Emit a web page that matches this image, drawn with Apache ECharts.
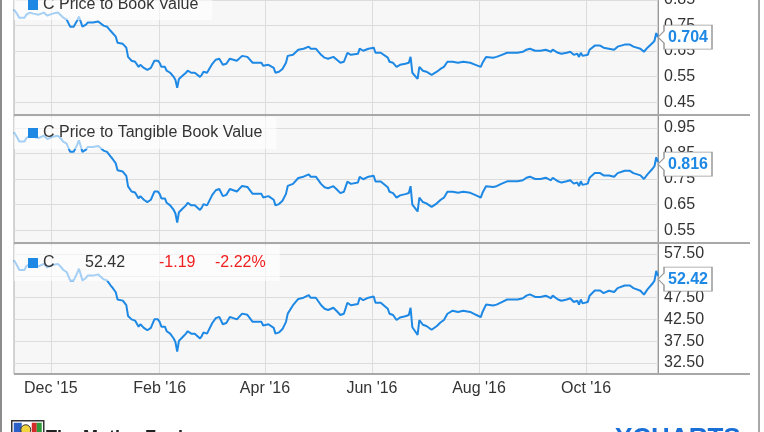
<!DOCTYPE html>
<html><head><meta charset="utf-8">
<script src="https://cdn.jsdelivr.net/npm/echarts@6/dist/echarts.min.js"></script>
<style>html,body{margin:0;padding:0;background:#fff}#c{width:764px;height:432px}</style>
</head><body><div id="c"></div><script>
const dates = ['2015-11-10','2015-11-12','2015-11-13','2015-11-16','2015-11-17','2015-11-19','2015-11-21','2015-11-24','2015-11-27','2015-11-29',
'2015-12-02','2015-12-03','2015-12-05','2015-12-07','2015-12-08','2015-12-10','2015-12-12','2015-12-14','2015-12-16','2015-12-17',
'2015-12-18','2015-12-19','2015-12-21','2015-12-22','2015-12-25','2015-12-28','2015-12-29','2015-12-31','2016-01-02','2016-01-04',
'2016-01-05','2016-01-07','2016-01-08','2016-01-11','2016-01-13','2016-01-14','2016-01-16','2016-01-18','2016-01-20','2016-01-21',
'2016-01-23','2016-01-24','2016-01-25','2016-01-27','2016-01-28','2016-01-29','2016-01-31','2016-02-01','2016-02-02','2016-02-04',
'2016-02-05','2016-02-07','2016-02-09','2016-02-10','2016-02-11','2016-02-12','2016-02-14','2016-02-16','2016-02-17','2016-02-19',
'2016-02-21','2016-02-22','2016-02-24','2016-02-25','2016-02-26','2016-02-28','2016-02-29','2016-03-02','2016-03-04','2016-03-06',
'2016-03-08','2016-03-10','2016-03-12','2016-03-14','2016-03-16','2016-03-19','2016-03-22','2016-03-25','2016-03-28','2016-03-30',
'2016-03-31','2016-04-03','2016-04-06','2016-04-07','2016-04-09','2016-04-11','2016-04-13','2016-04-14','2016-04-17','2016-04-18',
'2016-04-20','2016-04-23','2016-04-26','2016-04-27','2016-04-30','2016-05-03','2016-05-05','2016-05-07','2016-05-10','2016-05-12',
'2016-05-14','2016-05-16','2016-05-18','2016-05-20','2016-05-24','2016-05-25','2016-05-27','2016-05-30','2016-06-02','2016-06-03',
'2016-06-06','2016-06-07','2016-06-10','2016-06-11','2016-06-13','2016-06-15','2016-06-17','2016-06-20','2016-06-22','2016-06-23',
'2016-06-24','2016-06-26','2016-06-27','2016-06-28','2016-06-30','2016-07-02','2016-07-05','2016-07-08','2016-07-10','2016-07-12',
'2016-07-14','2016-07-17','2016-07-20','2016-07-23','2016-07-27','2016-07-30','2016-08-02','2016-08-03','2016-08-05','2016-08-06',
'2016-08-09','2016-08-11','2016-08-14','2016-08-17','2016-08-20','2016-08-23','2016-08-26','2016-08-28','2016-08-30','2016-09-02',
'2016-09-05','2016-09-08','2016-09-09','2016-09-11','2016-09-12','2016-09-15','2016-09-17','2016-09-20','2016-09-22','2016-09-24',
'2016-09-26','2016-09-27','2016-09-28','2016-09-29','2016-10-02','2016-10-03','2016-10-06','2016-10-09','2016-10-11','2016-10-14',
'2016-10-17','2016-10-19','2016-10-23','2016-10-26','2016-10-28','2016-11-01','2016-11-03','2016-11-05','2016-11-08','2016-11-09',
'2016-11-10','2016-11-11'];

const priceToBook = [.812,.792,.780,.780,.792,.800,.796,.792,.800,.788,
.796,.800,.800,.788,.780,.773,.745,.745,.769,.784,
.765,.745,.753,.761,.761,.765,.761,.749,.745,.729,
.722,.706,.682,.678,.663,.627,.612,.608,.588,.596,
.584,.588,.576,.584,.588,.612,.612,.604,.588,.588,
.573,.565,.549,.537,.506,.541,.553,.565,.573,.565,
.565,.569,.549,.557,.569,.565,.569,.600,.616,.620,
.596,.600,.620,.616,.612,.631,.627,.604,.604,.604,
.592,.596,.584,.565,.569,.580,.604,.631,.635,.635,
.655,.659,.667,.659,.659,.635,.624,.620,.627,.616,
.604,.608,.643,.635,.639,.659,.651,.659,.663,.643,
.643,.639,.624,.608,.604,.588,.596,.600,.604,.627,
.565,.549,.541,.588,.573,.569,.557,.569,.580,.588,
.608,.608,.604,.608,.604,.596,.588,.604,.627,.631,
.624,.627,.635,.643,.643,.643,.647,.655,.659,.651,
.651,.655,.659,.647,.655,.643,.639,.643,.647,.635,
.639,.627,.643,.631,.635,.655,.671,.671,.663,.659,
.655,.667,.675,.675,.667,.659,.647,.663,.682,.690,
.720,.704];

const priceToTangibleBook = [.933,.910,.896,.896,.910,.919,.915,.910,.919,.906,
.915,.919,.919,.906,.896,.888,.856,.856,.884,.901,
.879,.856,.865,.875,.875,.879,.875,.861,.856,.838,
.830,.811,.784,.779,.762,.721,.701,.697,.674,.683,
.669,.674,.660,.669,.674,.701,.701,.692,.674,.674,
.657,.647,.629,.615,.580,.620,.634,.647,.657,.647,
.647,.652,.629,.638,.652,.647,.652,.688,.706,.711,
.683,.688,.711,.706,.701,.723,.719,.692,.692,.692,
.678,.683,.669,.647,.652,.665,.692,.723,.731,.731,
.754,.759,.768,.759,.759,.731,.718,.714,.722,.709,
.695,.700,.740,.731,.736,.759,.749,.759,.763,.740,
.740,.736,.718,.700,.695,.677,.686,.691,.695,.722,
.650,.632,.623,.677,.660,.655,.641,.655,.668,.677,
.700,.700,.696,.700,.696,.687,.677,.696,.722,.727,
.719,.722,.732,.741,.741,.741,.745,.755,.759,.750,
.750,.755,.759,.745,.755,.741,.736,.741,.745,.732,
.736,.722,.741,.727,.732,.755,.773,.773,.764,.764,
.759,.773,.782,.782,.773,.764,.750,.768,.791,.800,
.835,.816];

const price = [56.05,54.67,53.84,53.84,54.67,55.22,54.95,54.67,55.22,54.40,
54.95,55.22,55.22,54.40,53.84,53.36,51.43,51.43,53.08,54.12,
52.81,51.43,51.98,52.53,52.53,52.81,52.53,51.70,51.43,50.32,
49.84,48.73,47.08,46.80,45.77,43.28,42.51,42.23,40.84,41.40,
40.56,40.84,40.01,40.56,40.84,42.51,42.51,41.95,40.84,40.84,
39.80,39.24,38.13,37.30,35.15,37.58,38.41,39.24,39.80,39.24,
39.24,39.52,38.13,38.69,39.52,39.24,39.52,41.68,42.79,43.07,
41.40,41.68,43.07,42.79,42.51,43.83,43.55,41.95,41.95,41.95,
41.12,41.40,40.56,39.24,39.52,40.29,41.95,43.83,45.75,45.75,
47.19,47.47,48.05,47.47,47.47,45.75,44.95,44.66,45.17,44.38,
43.51,43.80,46.32,45.75,46.03,47.47,46.90,47.47,47.76,46.32,
46.32,46.03,44.95,43.80,43.51,42.36,42.94,43.22,43.51,45.17,
40.70,39.55,38.97,42.36,41.28,40.99,40.13,40.99,41.78,42.36,
43.80,44.50,44.21,44.50,44.21,43.62,43.04,44.21,45.89,46.18,
45.67,45.89,46.48,47.06,47.06,47.06,47.35,47.94,48.23,47.65,
47.65,47.94,48.23,47.35,47.94,47.06,46.77,47.06,47.35,46.48,
46.77,45.89,47.06,46.18,46.48,47.94,49.11,49.11,48.53,49.07,
48.77,49.67,50.26,50.26,49.67,49.07,48.18,49.37,50.78,51.38,
53.61,52.42];

const axisStart = '2015-11-10';
const axisEnd = '2016-11-11';
const monthTicks = ['2015-12-01','2016-02-01','2016-04-01','2016-06-01','2016-08-01','2016-10-01'];
const monthLabels = ["Dec '15","Feb '16","Apr '16","Jun '16","Aug '16","Oct '16"];
const pbTicks = [0.45,0.55,0.65,0.75,0.85];
const ptbTicks = [0.55,0.65,0.75,0.85,0.95];
const priceTicks = [32.5,37.5,42.5,47.5,52.5,57.5];
const seriesNames = ['C Price to Book Value','C Price to Tangible Book Value','C'];
const quote = ['52.42','-1.19','-2.22%'];

function ts(s){const p=s.split('-').map(Number);return Date.UTC(p[0],p[1]-1,p[2]);}
const tickTs = monthTicks.map(ts);
const FONT = '"Liberation Sans", Arial, sans-serif';
const FS = 16;
const BLUE = '#1e88e5';
const GRID_LINE = '#dcdcdc';

function monthLabel(v){
  let best=0;
  for(let k=0;k<tickTs.length;k++){ if(Math.abs(tickTs[k]-v)<Math.abs(tickTs[best]-v)) best=k; }
  return monthLabels[best];
}
function xAxisFor(i, withLabels){
  return {
    gridIndex:i, type:'value', min:ts(axisStart), max:ts(axisEnd), scale:true,
    axisLine:{show:false}, axisTick:{show:false, customValues:tickTs},
    axisLabel:{show:withLabels, customValues:tickTs, fontSize:FS, color:'#333', fontFamily:FONT, margin:7, formatter:monthLabel},
    splitLine:{show:true, lineStyle:{color:GRID_LINE, width:1}}
  };
}
function yAxisFor(i, mn, mx, ticks, dec){
  return {
    gridIndex:i, type:'value', position:'right', min:mn, max:mx,
    axisLine:{show:true, lineStyle:{color:'#999', width:1}},
    axisTick:{show:false, customValues:ticks},
    axisLabel:{customValues:ticks, fontSize:FS, color:'#333', fontFamily:FONT, margin:6,
      formatter:function(v){return v.toFixed(dec);}},
    splitLine:{show:true, lineStyle:{color:GRID_LINE, width:1}}
  };
}
function seriesFor(i, vals, dec, dy){
  const last = vals.length-1;
  return {
    name:seriesNames[i], type:'line', xAxisIndex:i, yAxisIndex:i,
    data:dates.map((d,k)=>[ts(d), vals[k]]),
    showSymbol:false, symbol:'none', lineStyle:{color:BLUE, width:2}, itemStyle:{color:BLUE},
    animation:false, silent:true,
    markPoint:{
      silent:true, animation:false,
      symbol:'path://M0,12 L6,6 L6,0 L54,0 L54,24 L6,24 L6,18 Z',
      symbolSize:[54,24], symbolOffset:[27,dy],
      itemStyle:{color:'#fff', borderColor:'#999', borderWidth:1},
      label:{show:true, position:'inside', offset:[3,0], color:BLUE, fontWeight:'bold', fontSize:FS, fontFamily:FONT,
        formatter:function(p){return Number(p.value).toFixed(dec);}},
      data:[{coord:[ts(dates[last]), vals[last]], value:vals[last]}]
    }
  };
}
function legendFor(i, top, pad, extra){
  return Object.assign({
    data:[seriesNames[i]], left:14, top:top, orient:'horizontal',
    icon:'rect', itemWidth:10, itemHeight:10, itemGap:5, padding:pad,
    backgroundColor:'rgba(255,255,255,0.6)', selectedMode:false,
    textStyle:{fontSize:FS, color:'#333', fontFamily:FONT}
  }, extra||{});
}

const chart = echarts.init(document.getElementById('c'), null, {renderer:'canvas'});
chart.setOption({
  animation:false,
  backgroundColor:'#fff',
  textStyle:{fontFamily:FONT},
  grid:[
    {left:14, right:106, top:-13, height:128, show:true, backgroundColor:'#f7f7f7', borderColor:'#aaa', borderWidth:1, containLabel:false, outerBoundsMode:'none'},
    {left:14, right:106, top:115, height:128, show:true, backgroundColor:'#f7f7f7', borderColor:'#aaa', borderWidth:1, containLabel:false, outerBoundsMode:'none'},
    {left:14, right:106, top:243, height:131, show:true, backgroundColor:'#f7f7f7', borderColor:'#aaa', borderWidth:1, containLabel:false, outerBoundsMode:'none'}
  ],
  xAxis:[xAxisFor(0,false), xAxisFor(1,false), xAxisFor(2,true)],
  yAxis:[yAxisFor(0,0.4,0.9,pbTicks,2), yAxisFor(1,0.5,1.0,ptbTicks,2), yAxisFor(2,30,60,priceTicks,2)],
  legend:[
    legendFor(0,-11,[8,14,7,14]),
    legendFor(1,117,[8,14,8,14]),
    legendFor(2,245,[10,14,10,14],{
      formatter:function(){return '{n|C}{v|'+quote[0]+'}{d|'+quote[1]+'}{p|'+quote[2]+'}';},
      textStyle:{fontSize:FS, color:'#333', fontFamily:FONT, rich:{
        n:{width:42, fontSize:FS, color:'#333', fontFamily:FONT},
        v:{width:74, fontSize:FS, color:'#333', fontFamily:FONT},
        d:{width:56, fontSize:FS, color:'#f02020', fontFamily:FONT},
        p:{fontSize:FS, color:'#f02020', fontFamily:FONT}
      }}
    })
  ],
  series:[seriesFor(0, priceToBook, 3, 0), seriesFor(1, priceToTangibleBook, 3, 2), seriesFor(2, price, 2, 3)],
  graphic:[
    {type:'line', z:50, silent:true, shape:{x1:14,y1:115,x2:750,y2:115}, style:{stroke:'#a8a8a8', lineWidth:2}},
    {type:'line', z:50, silent:true, shape:{x1:14,y1:243,x2:750,y2:243}, style:{stroke:'#a8a8a8', lineWidth:2}},
    {type:'line', z:50, silent:true, shape:{x1:14,y1:374,x2:750,y2:374}, style:{stroke:'#a8a8a8', lineWidth:2}},
    {type:'line', z:50, silent:true, shape:{x1:1,y1:0,x2:1,y2:432}, style:{stroke:'#8c8c8c', lineWidth:2}},
    {type:'line', z:50, silent:true, shape:{x1:759,y1:0,x2:759,y2:432}, style:{stroke:'#8c8c8c', lineWidth:1.5}},
    {type:'group', left:11, top:420, silent:true, children:[
      {type:'rect', shape:{x:0,y:0,width:32,height:16}, style:{fill:'#fff', stroke:'#333', lineWidth:1.5}},
      {type:'rect', shape:{x:2,y:2,width:8,height:12}, style:{fill:'#2a60c8'}},
      {type:'circle', shape:{cx:14,cy:9,r:5}, style:{fill:'#f2d340', stroke:'#333', lineWidth:1}},
      {type:'rect', shape:{x:20,y:2,width:5,height:12}, style:{fill:'#d32a2a'}},
      {type:'rect', shape:{x:25,y:2,width:5,height:12}, style:{fill:'#2e9a3a'}}
    ]},
    {type:'text', left:46, top:429, silent:true, style:{text:'The Motley Fool', fill:'#222', font:'bold 18px '+FONT}},
    {type:'text', left:615, top:426, silent:true, style:{text:'YCHARTS', fill:'#1a6fd6', font:'bold 26px '+FONT}}
  ]
});
</script></body></html>
